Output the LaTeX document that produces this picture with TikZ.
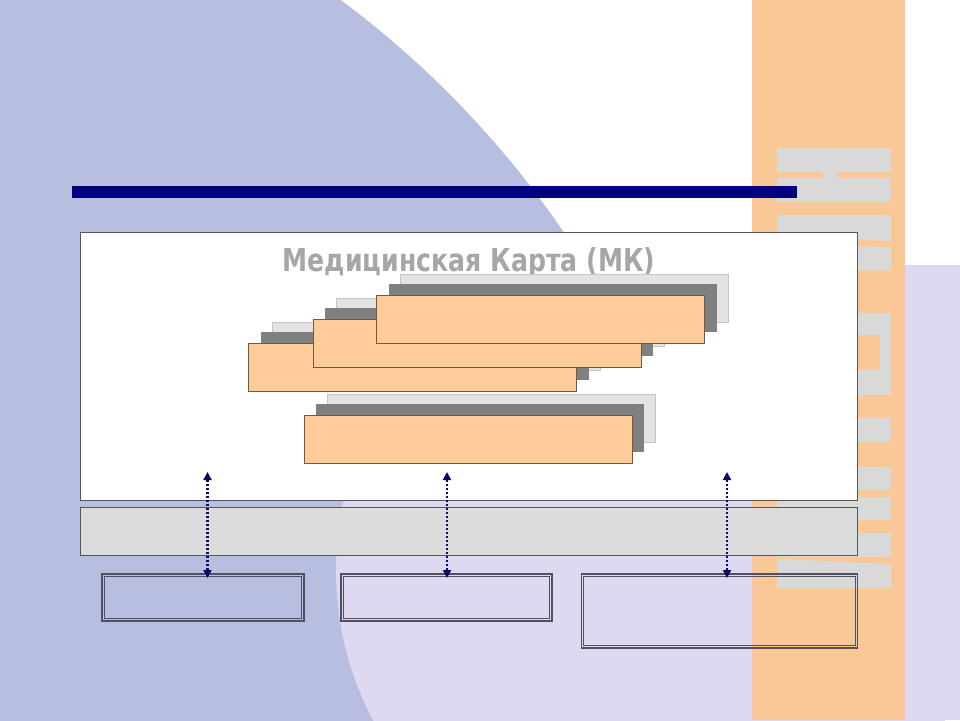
\documentclass[tikz,border=0pt]{standalone}
\usepackage{fontspec}
\newfontfamily\titlefont{DejaVu Sans}
\usetikzlibrary{arrows.meta}
\definecolor{bluebg}{RGB}{184,190,224}
\definecolor{lavbg}{RGB}{222,216,240}
\definecolor{stripc}{RGB}{249,200,150}
\definecolor{letterg}{RGB}{217,217,217}
\definecolor{navyc}{RGB}{0,0,128}
\definecolor{arrowc}{RGB}{10,10,100}
\definecolor{boxline}{RGB}{85,85,85}
\definecolor{dblline}{RGB}{80,80,96}
\definecolor{barfill}{RGB}{220,220,220}
\definecolor{orangebox}{RGB}{255,204,153}
\definecolor{obline}{RGB}{110,90,70}
\definecolor{darksh}{RGB}{128,128,128}
\definecolor{lightsh}{RGB}{227,227,227}
\definecolor{titlegray}{RGB}{166,166,166}
\begin{document}
\begin{tikzpicture}[x=1pt,y=-1pt,
  mkbox/.style={draw=boxline,line width=0.8pt,fill=white,minimum width=777pt,minimum height=268pt,inner sep=0pt},
  barbox/.style={draw=boxline,line width=0.8pt,fill=barfill,minimum width=777pt,minimum height=48pt,inner sep=0pt},
  obox/.style={draw=obline,line width=0.6pt,fill=orangebox,minimum width=328pt,minimum height=48pt,inner sep=0pt},
  dshadow/.style={fill=darksh,minimum width=328pt,minimum height=48pt,inner sep=0pt},
  lshadow/.style={draw=gray!45,line width=0.5pt,fill=lightsh,minimum width=328pt,minimum height=48pt,inner sep=0pt},
  outerbox/.style={draw=dblline,line width=1.2pt,inner sep=0pt},
  innerline/.style={draw=dblline,line width=0.9pt},
  dotarrow/.style={arrowc,line width=2.4pt,dash pattern=on 2.2pt off 1.8pt,{Triangle[length=8pt,width=8pt]}-{Triangle[length=8pt,width=8pt]}},
  lettershape/.style={fill=letterg}
]
\useasboundingbox (0,0) rectangle (960,720);
\clip (0,0) rectangle (960,720);
% background
\fill[white] (0,0) rectangle (960,720);
\fill[bluebg] (-237,778) circle[radius=969];
\fill[lavbg] (659,570) circle[radius=323];
\fill[lavbg] (905,265) rectangle (960,720);
\fill[stripc] (752,0) rectangle (905,720);
% decorative shapes in the strip
\fill[lettershape] (777,148) rectangle (891,172);
\fill[lettershape] (823,172) rectangle (837,178);
\fill[lettershape] (777,178) rectangle (891,202);
\fill[lettershape] (777,215) -- (891,215) -- (891,241) -- (777,236) -- cycle;
\fill[lettershape] (777,244) -- (891,247) -- (891,270) -- (777,270) -- cycle;
\fill[lettershape] (777,313) rectangle (891,335);
\fill[lettershape] (880,335) rectangle (891,370);
\fill[lettershape] (777,370) rectangle (891,395);
\fill[lettershape] (777,418) rectangle (891,442);
\fill[lettershape] (777,467) rectangle (891,490);
\fill[lettershape] (777,497) rectangle (891,520);
\fill[lettershape] (777,533) rectangle (891,557);
\fill[lettershape] (777,559) -- (891,564) -- (891,588) -- (777,588) -- cycle;
% title rule
\fill[navyc] (72,186) rectangle (797,198);
% main boxes
\node[mkbox] (mk) at (468.5,366) {};
\node[barbox] (bar) at (468.5,531) {};
% title
\node[anchor=base,inner sep=0pt,text=titlegray] (title) at (469,271)
  {\scalebox{0.8}[1]{\titlefont\bfseries\fontsize{31.5}{36}\selectfont Медицинская Карта (МК)}};
% stacked orange boxes: C (back), B, A (front)
\node[lshadow] (cL) at (435.8,346.3) {};
\node[dshadow] (cD) at (424.5,356.2) {};
\node[obox]    (c)  at (412.5,367.7) {};
\node[lshadow] (bL) at (500.1,322.1) {};
\node[dshadow] (bD) at (488.8,332.0) {};
\node[obox]    (b)  at (476.8,343.5) {};
\node[lshadow] (aL) at (563.8,298.1) {};
\node[dshadow] (aD) at (552.5,308.0) {};
\node[obox]    (a)  at (540.5,319.5) {};
% lower orange box D
\node[lshadow] (dL) at (491.6,417.9) {};
\node[dshadow] (dD) at (480.3,427.8) {};
\node[obox]    (d)  at (468.3,439.3) {};
% bottom double-bordered boxes
\node[outerbox,minimum width=202pt,minimum height=47pt] (b1) at (203,597.5) {};
\node[outerbox,minimum width=211pt,minimum height=47pt] (b2) at (446.5,597.5) {};
\node[outerbox,minimum width=276pt,minimum height=74pt] (b3) at (719.5,611) {};
\foreach \n in {b1,b2,b3}{
  \draw[innerline] ([shift={(3,3)}]\n.north west) rectangle ([shift={(-3,-3)}]\n.south east);
}
% dotted double arrows
\coordinate (t1) at (207.5,472);
\coordinate (e1) at (207.5,578);
\coordinate (t2) at (447,472);
\coordinate (e2) at (447,578);
\coordinate (t3) at (727,472);
\coordinate (e3) at (727,578);
\draw[dotarrow] (t1) -- (e1);
\draw[dotarrow] (t2) -- (e2);
\draw[dotarrow] (t3) -- (e3);
\end{tikzpicture}
\end{document}
